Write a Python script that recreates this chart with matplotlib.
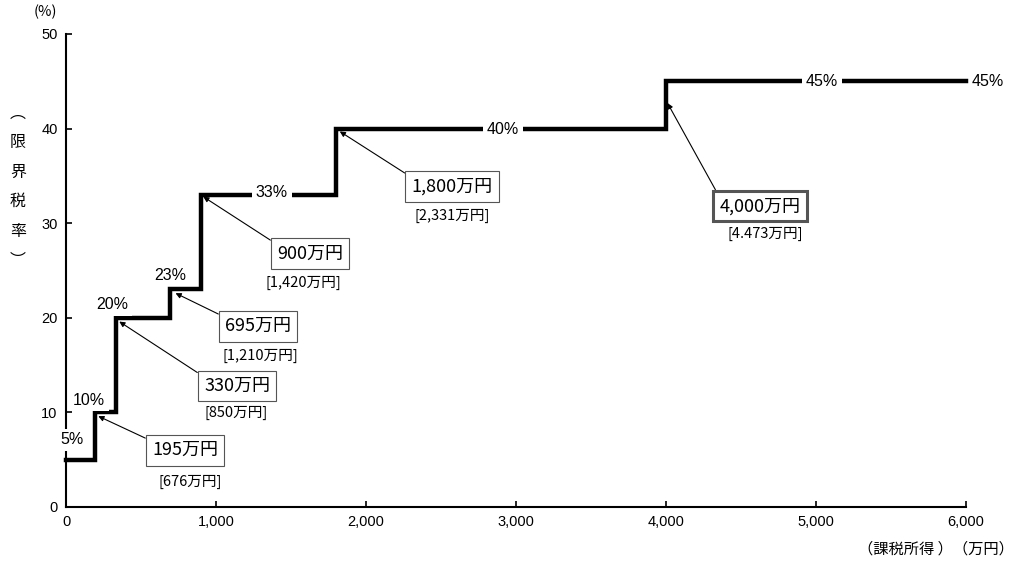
import matplotlib
matplotlib.use("Agg")
import matplotlib.pyplot as plt

plt.rcParams['font.family'] = ['Noto Sans CJK JP', 'DejaVu Sans']

# Data
thresholds = [0, 195, 330, 695, 900, 1800, 4000, 6000]
rates = [5, 10, 20, 23, 33, 40, 45]
rate_labels = ["5%", "10%", "20%", "23%", "33%", "40%", "45%"]
rate_label_pos = [(40, 7.1), (153, 11.3), (307, 21.4), (693, 24.5),
                  (1373, 33.2), (2913, 39.9), (5040, 45.0)]
end_label = "45%"
box_labels = ["195万円", "330万円", "695万円", "900万円", "1,800万円", "4,000万円"]
sub_labels = ["[676万円]", "[850万円]", "[1,210万円]", "[1,420万円]", "[2,331万円]", "[4.473万円]"]
box_pos = [(793, 6.0), (1140, 12.8), (1280, 19.1), (1627, 26.8), (2573, 33.9), (4627, 31.8)]
arrow_tip = [(215, 9.6), (355, 19.6), (730, 22.6), (915, 32.8), (1825, 39.7), (4010, 42.7)]
sub_pos = [(827, 2.6), (1133, 9.9), (1293, 16.0), (1580, 23.7), (2573, 30.8), (4660, 28.9)]
xticks = [0, 1000, 2000, 3000, 4000, 5000, 6000]
yticks = [0, 10, 20, 30, 40, 50]

fig = plt.figure(figsize=(10.32, 5.81), dpi=100)
ax = fig.add_axes([0.064, 0.1274, 0.872, 0.8141])

xs, ys = [], []
for i, r in enumerate(rates):
    xs += [thresholds[i], thresholds[i + 1]]
    ys += [r, r]
ax.plot(xs, ys, color='black', lw=3.2, solid_joinstyle='miter', zorder=2, clip_on=False)

ax.set_xlim(0, 6000)
ax.set_ylim(0, 50)
ax.set_xticks(xticks)
ax.set_xticklabels([f"{v:,}" for v in xticks])
ax.set_yticks(yticks)
for s in ['top', 'right']:
    ax.spines[s].set_visible(False)
for s in ['left', 'bottom']:
    ax.spines[s].set_linewidth(1.5)
ax.tick_params(direction='in', length=4, width=1.2, labelsize=10.5, pad=6)
for lab in ax.get_xticklabels() + ax.get_yticklabels():
    lab.set_family(['Liberation Sans', 'DejaVu Sans'])

tf = ['Liberation Sans', 'DejaVu Sans']
for lbl, (x, y) in zip(rate_labels, rate_label_pos):
    ax.text(x, y, lbl, ha='center', va='center', fontsize=11.5, family=tf, zorder=5,
            bbox=dict(facecolor='white', edgecolor='none', pad=2.5))
ax.text(6147, 45, end_label, ha='center', va='center', fontsize=11.5, family=tf,
        zorder=5, clip_on=False)

for i, (lbl, (bx, by), (tx, ty), (sx, sy)) in enumerate(zip(box_labels, box_pos, arrow_tip, sub_pos)):
    lw = 2.2 if i == len(box_labels) - 1 else 0.8
    ax.annotate(lbl, xy=(tx, ty), xytext=(bx, by), ha='center', va='center', fontsize=13,
                zorder=6,
                bbox=dict(boxstyle='square,pad=0.35', facecolor='white', edgecolor='#555555', lw=lw),
                arrowprops=dict(arrowstyle='-|>', color='black', lw=0.8, mutation_scale=8,
                                shrinkA=0, shrinkB=0, relpos=(0, 1)))
    ax.text(sx, sy, sub_labels[i], ha='center', va='center', fontsize=10.5, zorder=6)

fig.text(45 / 1032, 1 - 12 / 581, "(%)", ha='center', va='center', fontsize=10.5)
fig.text(18 / 1032, 1 - 187 / 581, "\n".join("︵限界税率︶"), ha='center', va='center',
         fontsize=11.5, linespacing=1.95)
fig.text(936 / 1032, 1 - 549 / 581, "（課税所得 ）（万円）", ha='center', va='center', fontsize=11)

fig.savefig("out.png", dpi=100)
